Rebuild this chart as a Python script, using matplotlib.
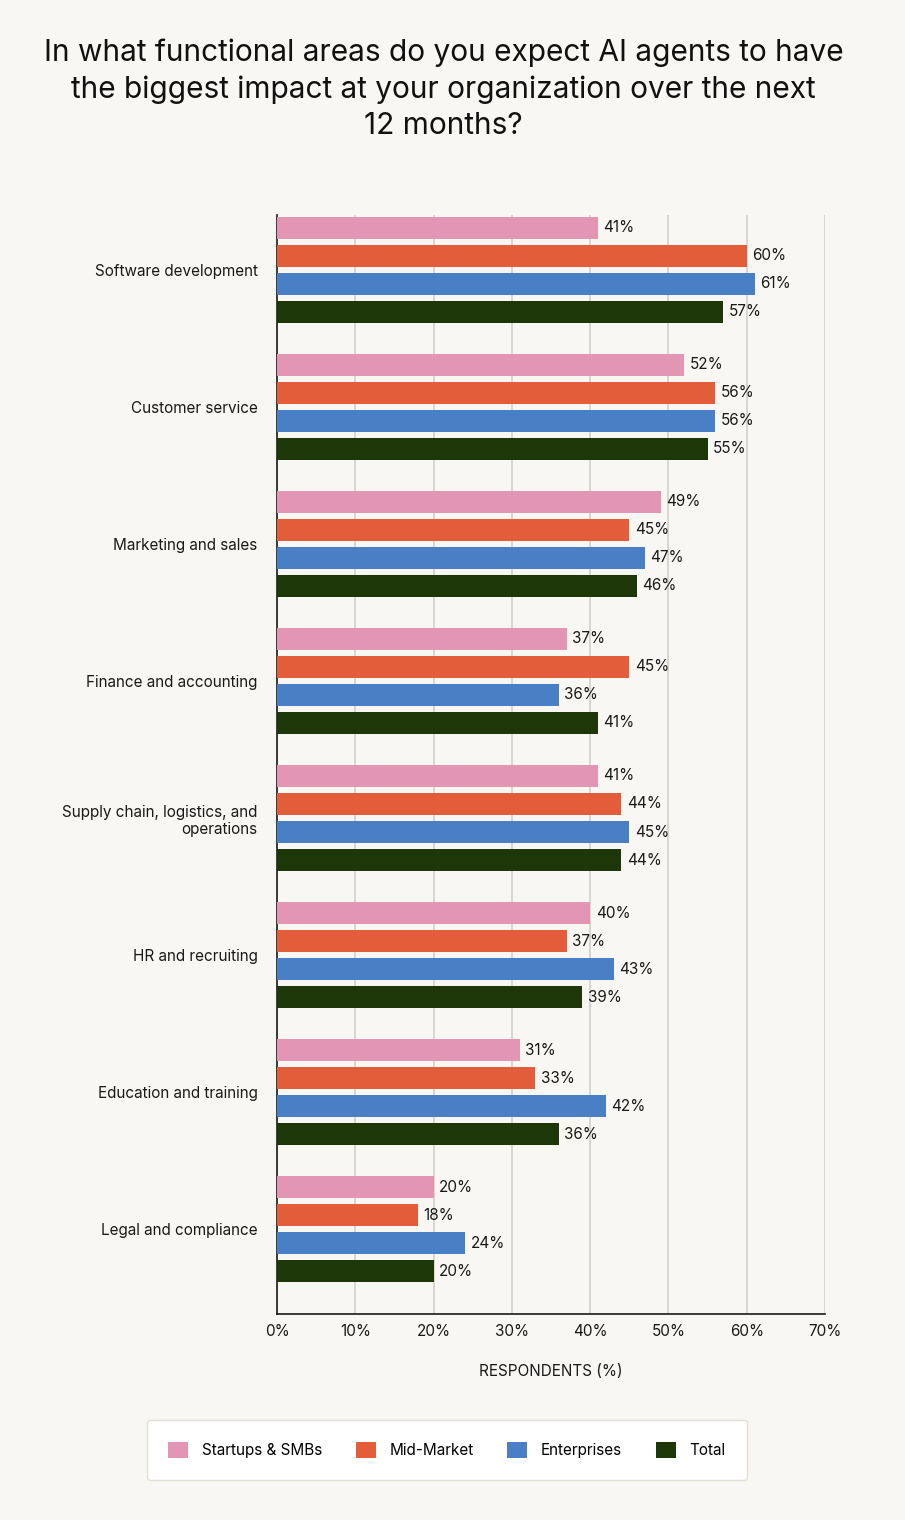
import matplotlib.pyplot as plt
import numpy as np

plt.rcParams['font.family'] = ['Inter', 'DejaVu Sans']

categories = ['Software development', 'Customer service', 'Marketing and sales',
              'Finance and accounting', 'Supply chain, logistics, and\noperations',
              'HR and recruiting', 'Education and training', 'Legal and compliance']
series_names = ['Startups & SMBs', 'Mid-Market', 'Enterprises', 'Total']
startups = [41, 52, 49, 37, 41, 40, 31, 20]
midmarket = [60, 56, 45, 45, 44, 37, 33, 18]
enterprises = [61, 56, 47, 36, 45, 43, 42, 24]
total = [57, 55, 46, 41, 44, 39, 36, 20]
xticks = [0, 10, 20, 30, 40, 50, 60, 70]

colors = ['#E396B3', '#E35D3B', '#487FC5', '#1E3709']
bg = '#F8F7F3'

fig = plt.figure(figsize=(9.05, 15.2), dpi=100, facecolor=bg)
ax = fig.add_axes([0.3061, 0.1355, 0.6055, 0.7230], facecolor=bg)

pitch = 28 / 137.0
height = 22 / 137.0
y = np.arange(len(categories))
all_series = [startups, midmarket, enterprises, total]
for j, vals in enumerate(all_series):
    pos = y + (j - 1.5) * pitch
    ax.barh(pos, vals, height=height, color=colors[j], label=series_names[j], zorder=3)
    for p, v in zip(pos, vals):
        ax.text(v + 0.7, p, f'{v}%', va='center', ha='left', fontsize=11, color='#1a1a1a')

ax.set_ylim(7.62, -0.40)
ax.set_xlim(0, 70)
ax.set_yticks(y)
ax.set_yticklabels(categories, fontsize=11, color='#1a1a1a')
ax.tick_params(axis='y', length=0, pad=14)
ax.set_xticks(xticks)
ax.set_xticklabels([f'{t}%' for t in xticks], fontsize=11, color='#1a1a1a')
ax.tick_params(axis='x', length=0, pad=7)
ax.grid(axis='x', color='#D3D0C8', linewidth=1.2, zorder=0)
for s in ['top', 'right']:
    ax.spines[s].set_visible(False)
for s in ['left', 'bottom']:
    ax.spines[s].set_color('#1a1a1a')
    ax.spines[s].set_linewidth(1.2)
ax.set_xlabel('RESPONDENTS (%)', fontsize=11, labelpad=18, color='#1a1a1a')

fig.text(0.49, 1 - 89 / 1520, 'In what functional areas do you expect AI agents to have\n'
         'the biggest impact at your organization over the next\n12 months?',
         ha='center', va='center', fontsize=21.5, linespacing=1.38, color='#111111')

leg = fig.legend(loc='center', bbox_to_anchor=(447 / 905, 1 - 1450 / 1520), ncol=4,
                 fontsize=11, frameon=True, handlelength=1.3, handleheight=1.3,
                 columnspacing=2.2, borderpad=1.4, handletextpad=0.9, fancybox=True,
                 borderaxespad=0)
leg.get_frame().set_facecolor('white')
leg.get_frame().set_edgecolor('#E3DFD3')
leg.get_frame().set_alpha(1)

fig.savefig('out.png', dpi=100, facecolor=bg)
